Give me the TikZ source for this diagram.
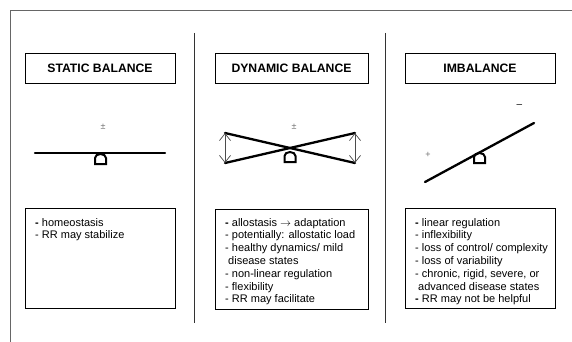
\documentclass[tikz,border=0pt]{standalone}
\usepackage{fontspec}
\setmainfont{Liberation Sans}
\usetikzlibrary{arrows.meta}
\tikzset{
  titlebox/.style={draw=black, line width=0.8pt, minimum height=30pt, inner sep=0pt, font=\fontsize{12.2}{13}\selectfont\bfseries},
  listbox/.style={draw=black, line width=0.8pt, minimum height=100pt, inner sep=0pt},
  listtext/.style={anchor=north west, inner sep=0pt, align=left, font=\fontsize{11}{12.8}\selectfont},
  beam/.style={line width=2.3pt, line cap=round},
  divider/.style={draw=black!80, line width=1pt},
  frameline/.style={draw=black!60, line width=0.9pt},
  sign/.style={inner sep=0pt, text=black!55, font=\fontsize{9}{10}\selectfont},
  swing/.style={draw=black!70, line width=0.7pt, {Straight Barb[length=7pt,width=11pt]}-{Straight Barb[length=7pt,width=11pt]}},
  fulcrum/.pic={\draw[line width=2pt] (-5.5,10) -- (-5.5,4) arc[start angle=180, end angle=360, x radius=5.5, y radius=4] -- (5.5,10) -- cycle;}
}
\begin{document}
\begin{tikzpicture}[x=1pt,y=-1pt]
\useasboundingbox (0,0) rectangle (572,342);
% outer frame
\coordinate (fBL) at (10,342);
\coordinate (fTL) at (10,10);
\coordinate (fTR) at (572,10);
\draw[frameline] (fBL) -- (fTL) -- (fTR);
% dividers
\coordinate (d1t) at (194.5,33); \coordinate (d1b) at (194.5,323);
\coordinate (d2t) at (385,33); \coordinate (d2b) at (385,323);
\draw[divider] (d1t) -- (d1b);
\draw[divider] (d2t) -- (d2b);
% titles
\node[titlebox, minimum width=150pt] (t1) at (100,68) {STATIC BALANCE};
\node[titlebox, minimum width=153pt] (t2) at (291.5,68) {DYNAMIC BALANCE};
\node[titlebox, minimum width=150pt] (t3) at (480,68) {IMBALANCE};
% list boxes
\node[listbox, minimum width=150pt] (b1) at (100,258) {};
\node[listbox, minimum width=153pt] (b2) at (291.5,259) {};
\node[listbox, minimum width=150pt] (b3) at (480,258) {};
\node[listtext] (l1) at (35,218) {\textbf{-} homeostasis\\- RR may stabilize};
\node[listtext] (l2) at (225,218) {\textbf{-} allostasis $\rightarrow$ adaptation\\- potentially: allostatic load\\- healthy dynamics/ mild\\\hspace*{3pt}disease states\\- non-linear regulation\\- flexibility\\- RR may facilitate};
\node[listtext] (l3) at (415,218) {\textbf{-} linear regulation\\- inflexibility\\- loss of control/ complexity\\- loss of variability\\- chronic, rigid, severe, or\\\hspace*{3pt}advanced disease states\\\textbf{-} RR may not be helpful};
% static seesaw
\coordinate (sL) at (35,153); \coordinate (sR) at (165,153);
\draw[beam] (sL) -- (sR);
\pic at (100.5,154) {fulcrum};
\node[sign] (s1) at (103,127) {±};
% dynamic seesaw
\coordinate (dL1) at (225,133); \coordinate (dL2) at (225,163);
\coordinate (dR1) at (355,133); \coordinate (dR2) at (355,163);
\draw[beam] (dL1) -- (dR2);
\draw[beam] (dL2) -- (dR1);
\draw[swing] (dL1) -- (dL2);
\draw[swing] (dR1) -- (dR2);
\pic at (290,152) {fulcrum};
\node[sign] (s2) at (294,127) {±};
% imbalance seesaw
\coordinate (iL) at (425,182); \coordinate (iR) at (534,123);
\draw[beam] (iL) -- (iR);
\pic at (479.5,153) {fulcrum};
\node[sign] (s3) at (428,155) {+};
\node[inner sep=0pt, font=\fontsize{10}{11}\selectfont] (s4) at (519.5,106) {–};
\end{tikzpicture}
\end{document}
